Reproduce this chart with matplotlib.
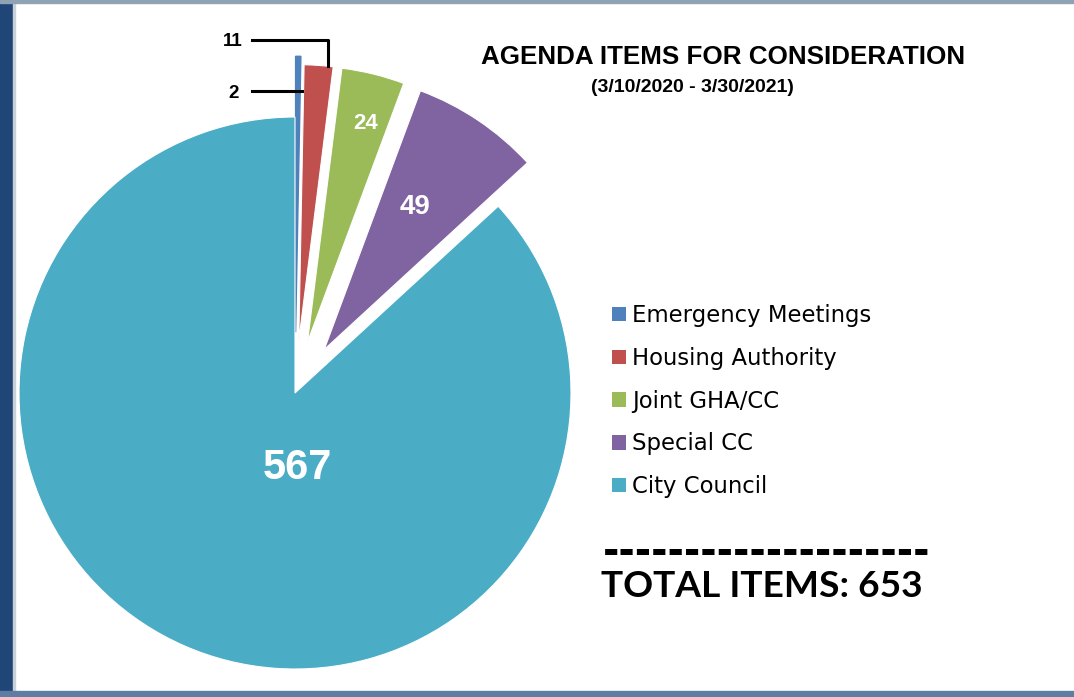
import numpy as np
import matplotlib
matplotlib.use("Agg")
import matplotlib.pyplot as plt
from matplotlib.patches import Rectangle
from matplotlib.lines import Line2D

# data
categories = ["Emergency Meetings", "Housing Authority", "Joint GHA/CC", "Special CC", "City Council"]
values = [2, 11, 24, 49, 567]
colors = ["#4f81bd", "#c0504d", "#9bbb59", "#8064a2", "#4bacc6"]
explode = [0.22, 0.19, 0.19, 0.19, 0.0]
total = sum(values)

W, H = 1074, 697
fig = plt.figure(figsize=(W / 100, H / 100), dpi=100)
fig.patch.set_facecolor("white")

# pie axes: center at (295, 393) px, radius 276 px
cx, cy, r = 295, 393, 276
ax = fig.add_axes([0, 0, 1, 1])

wedges, _ = ax.pie(values, colors=colors, explode=explode, startangle=90,
                   counterclock=False, radius=1, frame=False,
                   wedgeprops=dict(edgecolor="white", linewidth=0.8))
# the tiny slice gets its own colour as edge so it stays visible
wedges[0].set_edgecolor(colors[0])
wedges[0].set_linewidth(1.0)
ax.set_xlim(-cx / r, (W - cx) / r)
ax.set_ylim(-(H - cy) / r, cy / r)
ax.set_aspect("auto")
ax.axis("off")

# labels inside slices (distance from slice tip, angle shift from the bisector)
for i, dist, dang, size in [(2, 0.82, -1.2, 16), (3, 0.61, 1.4, 20)]:
    w = wedges[i]
    ang = np.deg2rad((w.theta1 + w.theta2) / 2 + dang)
    x0, y0 = w.center
    ax.text(x0 + dist * np.cos(ang), y0 + dist * np.sin(ang), str(values[i]),
            color="white", fontsize=size, fontweight="bold", family="Liberation Sans",
            ha="center", va="center")
ax.text(0.01, -0.273, str(values[4]), color="white", fontsize=30, fontweight="bold",
        family="Liberation Sans", ha="center", va="center")


def px(x, y):
    return x / W, 1 - y / H


# leader labels for the tiny slices
fig.add_artist(Line2D([252 / W, 328 / W, 328 / W], [1 - 40 / H, 1 - 40 / H, 1 - 66 / H],
                      color="black", lw=2.2, transform=fig.transFigure))
fig.add_artist(Line2D([252 / W, 302 / W], [1 - 91 / H, 1 - 91 / H],
                      color="black", lw=2.2, transform=fig.transFigure))
fig.text(*px(243, 42), str(values[1]), ha="right", va="center", fontsize=13.5,
         fontweight="bold", family="Liberation Sans")
fig.text(*px(239, 93), str(values[0]), ha="right", va="center", fontsize=13.5,
         fontweight="bold", family="Liberation Sans")

# title
fig.text(*px(723, 57), "AGENDA ITEMS FOR CONSIDERATION", ha="center", va="center",
         fontsize=18.7, fontweight="bold", family="Liberation Sans")
fig.text(*px(692, 87), "(3/10/2020 - 3/30/2021)", ha="center", va="center",
         fontsize=14, fontweight="bold", family="Liberation Sans")

# legend
leg = fig.legend(wedges, categories, loc="upper left", bbox_to_anchor=px(612, 304),
                 frameon=False, prop={"family": "DejaVu Sans", "size": 16.4},
                 handlelength=0.6, handleheight=0.6, handletextpad=0.3,
                 labelspacing=0.87, borderpad=0, borderaxespad=0)
for h in leg.legend_handles:
    h.set_edgecolor("none")

# total
fig.text(*px(603, 564), "-" * 20, ha="left", va="baseline", fontsize=28.5,
         fontweight="bold", family="DejaVu Sans")
fig.text(*px(601, 597), f"TOTAL ITEMS: {total}", ha="left", va="baseline", fontsize=26.7,
         fontweight="bold", family="Lato")

# window frame strips
fig.add_artist(Rectangle((0, 0), 13 / W, 1, color="#1f4677", transform=fig.transFigure))
fig.add_artist(Rectangle((13 / W, 0), 2 / W, 1, color="#c9d0d8", transform=fig.transFigure))
fig.add_artist(Rectangle((0, 0), 1, 6 / H, color="#5d7da3", transform=fig.transFigure))
fig.add_artist(Rectangle((0, 1 - 3 / H), 1, 3 / H, color="#8fa3b5", transform=fig.transFigure))

fig.savefig("out.png", dpi=100)
